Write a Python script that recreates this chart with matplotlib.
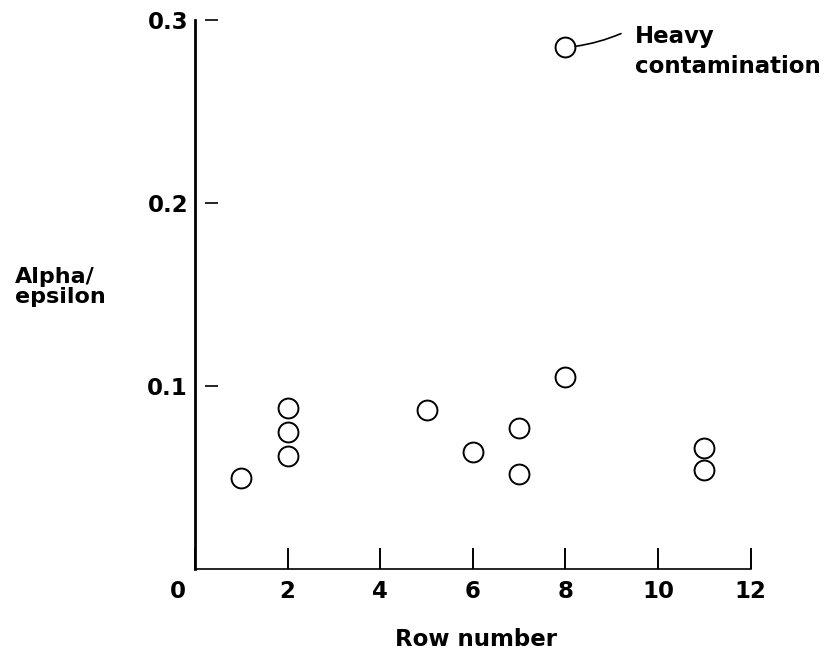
import matplotlib.pyplot as plt
from matplotlib.transforms import ScaledTranslation

plt.rcParams["font.family"] = ["DejaVu Sans"]
plt.rcParams["font.weight"] = "bold"

# data
rows = [1, 2, 2, 2, 5, 6, 7, 7, 8, 11, 11]
alpha_eps = [0.050, 0.088, 0.075, 0.062, 0.087, 0.064, 0.077, 0.052, 0.105, 0.066, 0.054]
heavy_row = [8]
heavy_val = [0.285]
heavy_label = "Heavy\ncontamination"

x_ticks = [0, 2, 4, 6, 8, 10, 12]
y_ticks = [0.1, 0.2, 0.3]
y_tick_labels = ["0.1", "0.2", "0.3"]

FONT = 16.5

fig = plt.figure(figsize=(8.26, 6.58), dpi=100)
ax = fig.add_axes([195 / 826, 1 - 569 / 658, (750.7 - 195) / 826, (569 - 20) / 658])
ax.set_xlim(0, 12)
ax.set_ylim(0, 0.3)

marker_kw = dict(marker="o", markersize=14.3, markerfacecolor="white",
                 markeredgecolor="black", markeredgewidth=1.4,
                 linestyle="none", clip_on=False, zorder=3)
ax.plot(rows, alpha_eps, **marker_kw)
ax.plot(heavy_row, heavy_val, **marker_kw)

# leader line and label for the contaminated point
ax.annotate("", xy=(heavy_row[0], heavy_val[0]), xytext=(40, 10),
            textcoords="offset points",
            arrowprops=dict(arrowstyle="-", color="black", lw=1.2,
                            shrinkA=0, shrinkB=7,
                            connectionstyle="arc3,rad=-0.08"))
ax.annotate(heavy_label, xy=(heavy_row[0], heavy_val[0]), xytext=(50, 16),
            textcoords="offset points", ha="left", va="top",
            fontsize=FONT, fontweight="bold", linespacing=1.35)

for side in ["top", "right"]:
    ax.spines[side].set_visible(False)
ax.spines["left"].set_linewidth(2.0)
ax.spines["bottom"].set_linewidth(1.2)

ax.set_xticks(x_ticks)
ax.set_xticklabels([str(t) for t in x_ticks])
ax.tick_params(axis="x", direction="in", length=15, width=1.4, pad=8,
               labelsize=FONT)
# the "0" sits left of the corner in the original
zero = ax.get_xticklabels()[0]
zero.set_transform(zero.get_transform() + ScaledTranslation(-0.17, 0, fig.dpi_scale_trans))

ax.set_yticks(y_ticks)
ax.set_yticklabels(y_tick_labels)
ax.tick_params(axis="y", length=0, pad=5, labelsize=FONT)

# y ticks are short dashes set off from the axis
ax.hlines(y_ticks, 0.22, 0.5, color="black", lw=1.2, clip_on=False)

fig.text(476 / 826, 1 - 640 / 658, "Row number", ha="center", va="center",
         fontsize=FONT, fontweight="bold")
fig.text(15 / 826, 1 - 287 / 658, "Alpha/\nepsilon", ha="left", va="center",
         fontsize=FONT - 0.5, fontweight="bold", linespacing=1.05)

fig.savefig("out.png", dpi=100)
